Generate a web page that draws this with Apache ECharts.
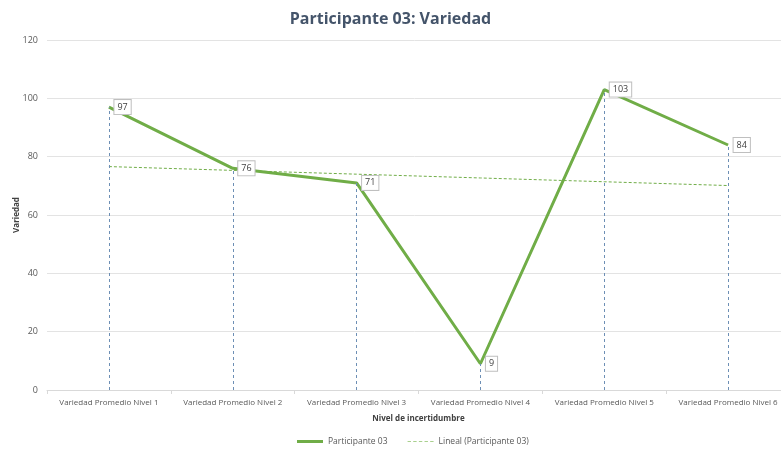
<!DOCTYPE html>
<html><head><meta charset="utf-8">
<script src="https://cdn.jsdelivr.net/npm/echarts@6/dist/echarts.min.js"></script>
<style>html,body{margin:0;padding:0;background:#fff}#c{width:781px;height:455px}</style>
</head><body><div id="c"></div>
<script>
var categories = ['Variedad Promedio Nivel 1','Variedad Promedio Nivel 2','Variedad Promedio Nivel 3','Variedad Promedio Nivel 4','Variedad Promedio Nivel 5','Variedad Promedio Nivel 6'];
var participante = [97, 76, 71, 9, 103, 84];
var lineal = [76.6, 75.3, 74.0, 72.7, 71.4, 70.1];
var yTicks = {min: 0, max: 120, interval: 20};

var FONT = "'Open Sans', 'Noto Sans', sans-serif";
var chart = echarts.init(document.getElementById('c'));
var dropData = participante.map(function (v, i) {
  return [{coord: [i, 0]}, {coord: [i, v]}];
});
chart.setOption({
  animation: false,
  textStyle: {fontFamily: FONT},
  title: {
    text: 'Participante 03: Variedad', left: 'center', top: 6,
    textStyle: {fontFamily: FONT, fontSize: 16, fontWeight: 'bold', color: '#44546a'}
  },
  legend: {
    bottom: 4, left: 292, itemGap: 20, itemWidth: 26, itemHeight: 3,
    textStyle: {fontFamily: FONT, fontSize: 8.5, color: '#595959'},
    data: [
      {name: 'Participante 03', icon: 'rect', itemStyle: {color: '#70ad47', opacity: 1}},
      {name: 'Lineal (Participante 03)', icon: 'path://M0,0h3v1h-3z M5,0h3v1h-3z M10,0h3v1h-3z M15,0h3v1h-3z M20,0h3v1h-3z', itemStyle: {color: '#a9d08e'}}
    ]
  },
  grid: {left: 47, top: 40, width: 743, height: 350, containLabel: false, outerBoundsMode: 'none'},
  xAxis: {
    type: 'category', data: categories,
    name: 'Nivel de incertidumbre', nameLocation: 'middle', nameGap: 25, nameMoveOverlap: false,
    nameTextStyle: {fontFamily: FONT, fontSize: 8, fontWeight: 'bold', color: '#404040'},
    axisLine: {lineStyle: {color: '#d9d9d9'}},
    axisTick: {show: true, length: 4, lineStyle: {color: '#d9d9d9'}},
    axisLabel: {fontFamily: FONT, fontSize: 8, color: '#595959', margin: 9, interval: 0}
  },
  yAxis: {
    type: 'value', min: yTicks.min, max: yTicks.max, interval: yTicks.interval,
    name: 'Variedad', nameLocation: 'middle', nameGap: 26, nameRotate: 90, nameMoveOverlap: false,
    nameTextStyle: {fontFamily: FONT, fontSize: 8, fontWeight: 'bold', color: '#404040'},
    axisLine: {show: false}, axisTick: {show: false},
    axisLabel: {fontFamily: FONT, fontSize: 9, color: '#595959', margin: 9},
    splitLine: {lineStyle: {color: '#e3e3e3'}}
  },
  series: [
    {
      name: 'Participante 03', type: 'line', data: participante,
      symbol: 'circle', symbolSize: 1, showSymbol: true,
      lineStyle: {color: '#70ad47', width: 3},
      itemStyle: {color: 'rgba(0,0,0,0)', borderWidth: 0}, z: 3,
      label: {
        show: true, position: 'right', distance: 5,
        fontFamily: FONT, fontSize: 9, color: '#404040',
        backgroundColor: '#fff', borderColor: '#bfbfbf', borderWidth: 1,
        padding: [3, 3, 2, 3], offset: [0, -1]
      },
      labelLayout: {hideOverlap: false},
      markLine: {
        silent: true, symbol: 'none', label: {show: false},
        lineStyle: {type: [3, 3], color: '#6d8fb5', width: 1},
        data: dropData
      }
    },
    {
      name: 'Lineal (Participante 03)', type: 'line', data: lineal,
      symbol: 'none', lineStyle: {color: '#70ad47', width: 1, type: [3, 2]},
      itemStyle: {color: '#a9d08e'}, z: 2
    }
  ]
});
</script></body></html>
